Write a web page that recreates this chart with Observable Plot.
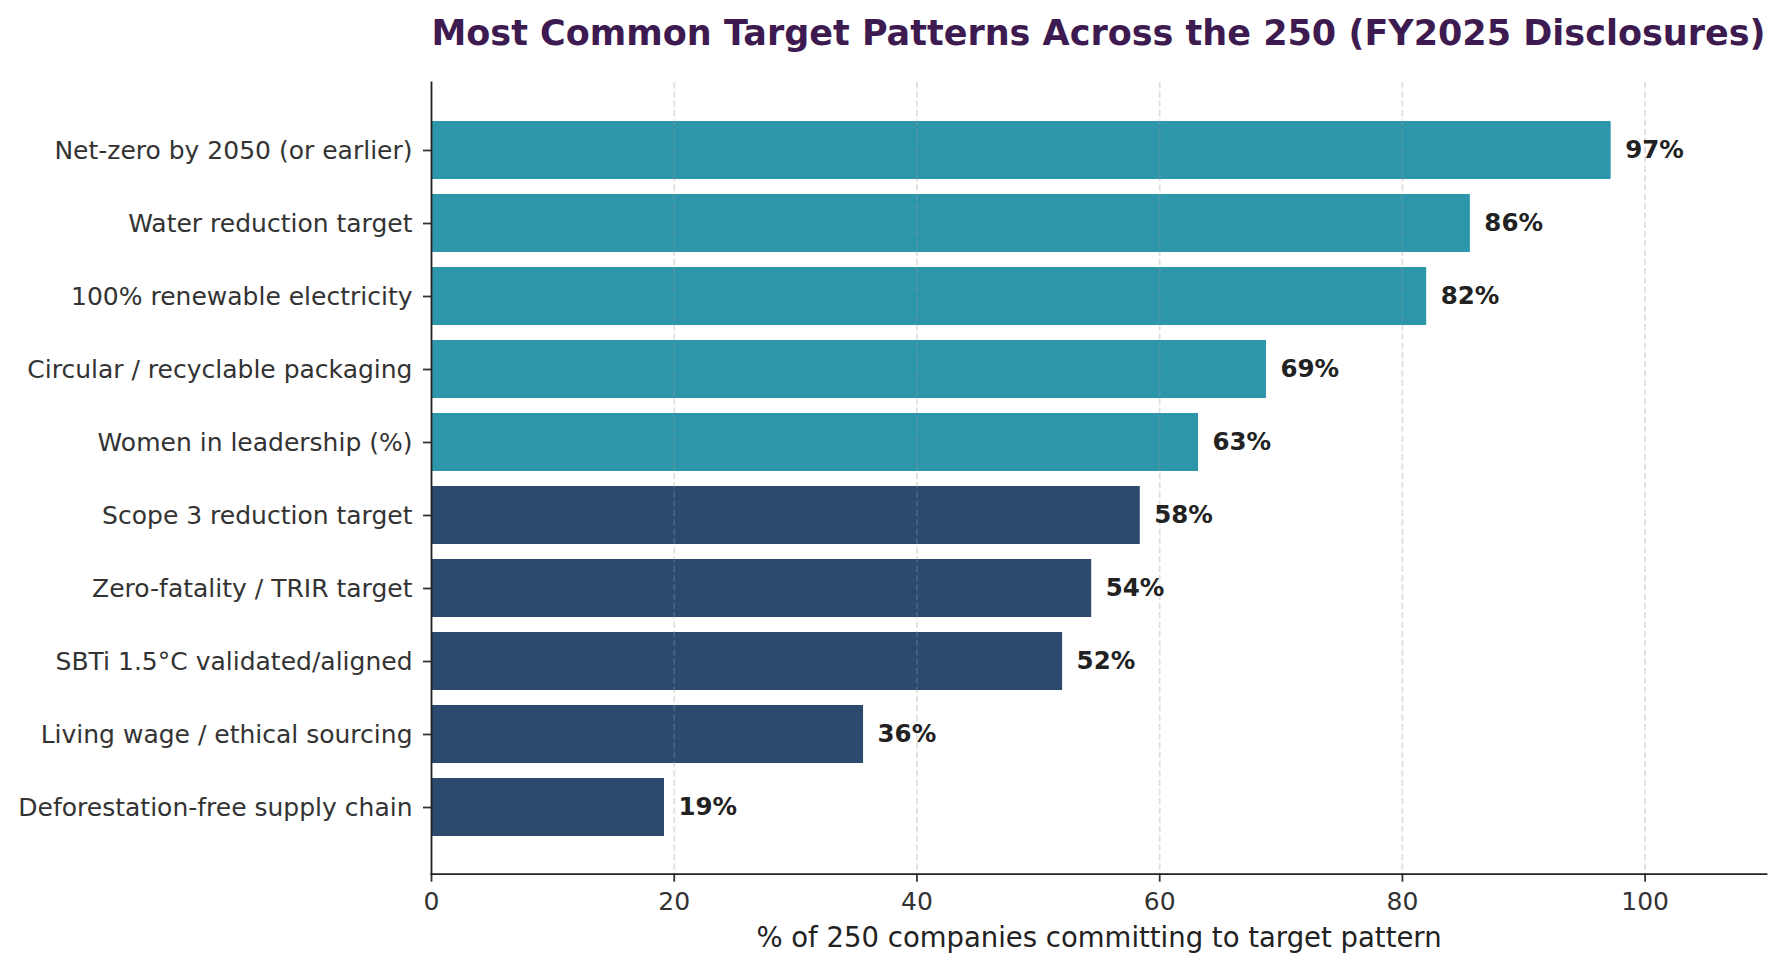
<!DOCTYPE html>
<html><head><meta charset="utf-8">
<script src="https://cdn.jsdelivr.net/npm/d3@7"></script>
<script src="https://cdn.jsdelivr.net/npm/@observablehq/plot@0.6"></script>
<style>
body{margin:0;background:#fff;font-family:"DejaVu Sans",sans-serif;}
#title{width:1782px;height:60px;box-sizing:border-box;padding:15px 16px 0 431px;text-align:center;white-space:nowrap;font-size:35px;line-height:36px;font-weight:bold;color:#3d1a4f;}
</style></head><body>
<div id="title">Most Common Target Patterns Across the 250 (FY2025 Disclosures)</div>
<div id="chart"></div>
<script>
const categories = [
  "Net-zero by 2050 (or earlier)",
  "Water reduction target",
  "100% renewable electricity",
  "Circular / recyclable packaging",
  "Women in leadership (%)",
  "Scope 3 reduction target",
  "Zero-fatality / TRIR target",
  "SBTi 1.5°C validated/aligned",
  "Living wage / ethical sourcing",
  "Deforestation-free supply chain"
];
const values = [97.2, 85.6, 82.0, 68.8, 63.2, 58.4, 54.4, 52.0, 35.6, 19.2];
const groups = ["top","top","top","top","top","rest","rest","rest","rest","rest"];
const xTicks = [0, 20, 40, 60, 80, 100];
const gridTicks = [20, 40, 60, 80, 100];
const xLabel = "% of 250 companies committing to target pattern";
const groupColors = ["#2e96aa", "#2b4a6e"];

const rows = categories.map((c, i) => ({category: c, value: values[i], group: groups[i]}));

const chart = Plot.plot({
  width: 1782, height: 911,
  marginLeft: 431, marginRight: 16, marginTop: 22, marginBottom: 97.3,
  style: {fontFamily: "DejaVu Sans", fontSize: "25px", color: "#333", background: "#fff"},
  x: {domain: [0, 110]},
  y: {domain: categories, paddingInner: 0.21, paddingOuter: 0.5},
  color: {domain: ["top", "rest"], range: groupColors},
  marks: [
    Plot.barX(rows, {x: "value", y: "category", fill: "group"}),
    Plot.gridX(gridTicks, {stroke: "#999", strokeOpacity: 0.3, strokeDasharray: "6.5,2.8", strokeWidth: 1.8}),
    Plot.text(rows, {x: "value", y: "category", text: d => Math.round(d.value) + "%", textAnchor: "start", dx: 14, fontWeight: "bold", fill: "#222", fontSize: 24.5}),
    Plot.axisY({tickSize: 8, tickPadding: 11, label: null, fontSize: 25, strokeWidth: 1.8}),
    Plot.axisX({ticks: xTicks, tickSize: 8, tickPadding: 10.5, label: null, fontSize: 25, strokeWidth: 1.8}),
    Plot.text([xLabel], {text: d => d, frameAnchor: "bottom", lineAnchor: "bottom", dy: 73, fontSize: 27.5, fill: "#222"}),
    Plot.frame({anchor: "left", stroke: "#222", strokeWidth: 1.8}),
    Plot.frame({anchor: "bottom", stroke: "#222", strokeWidth: 1.8})
  ]
});
document.getElementById("chart").appendChild(chart);
</script>
</body></html>
